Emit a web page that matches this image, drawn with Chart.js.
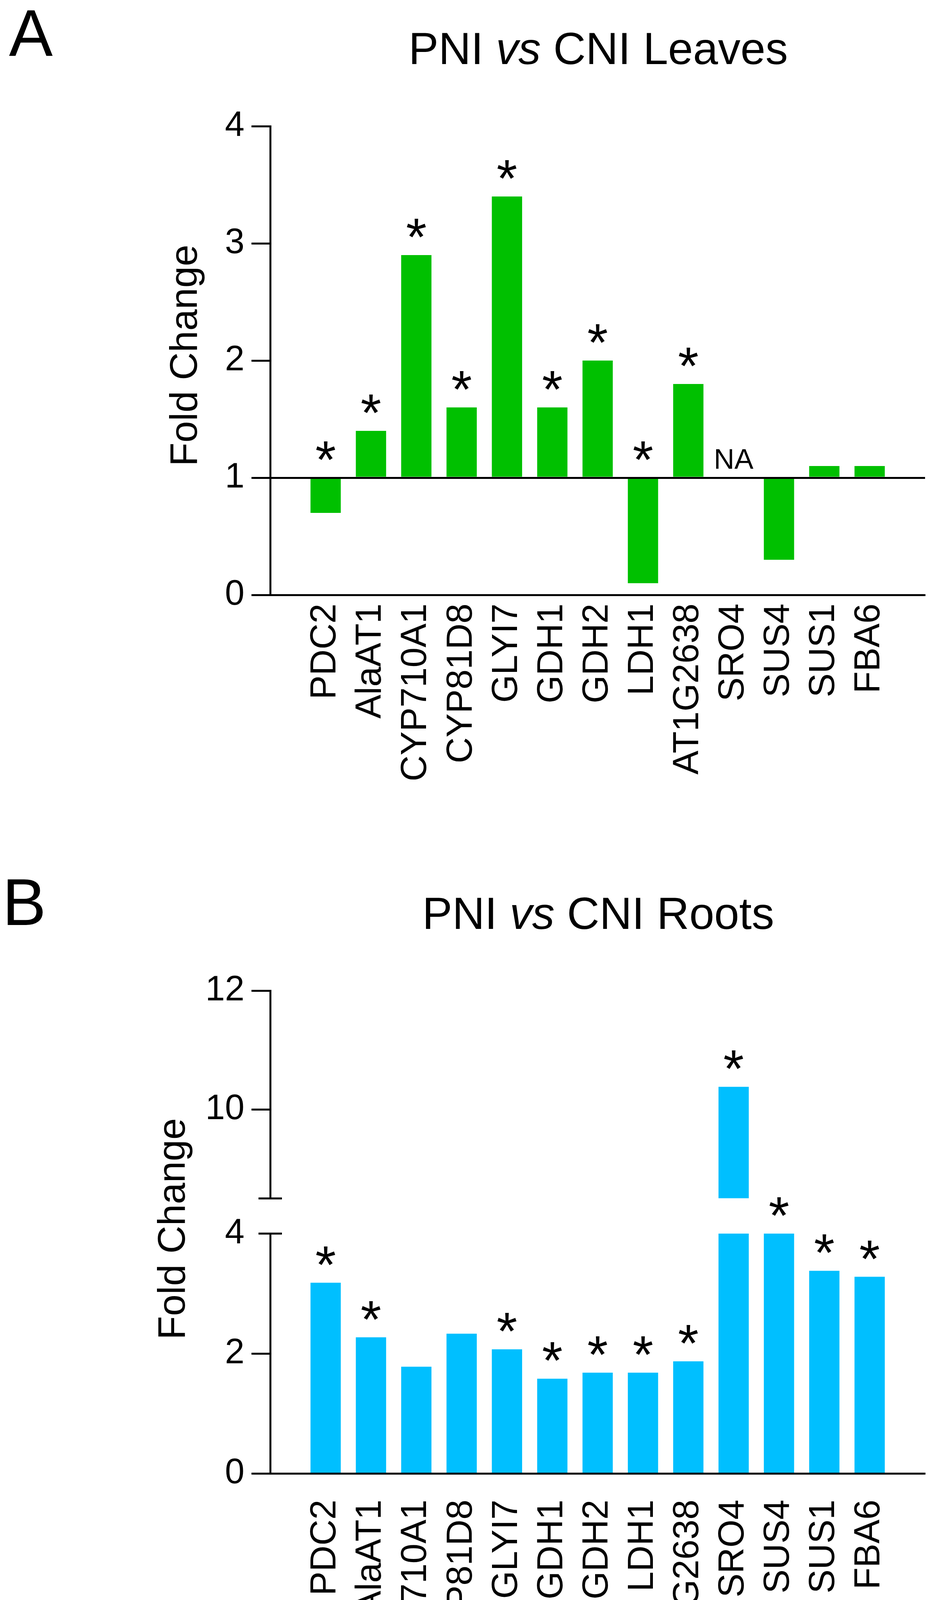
<!DOCTYPE html>
<html>
<head>
<meta charset="utf-8">
<title>PNI vs CNI fold change</title>
<script src="https://cdn.jsdelivr.net/npm/chart.js@4.4.1/dist/chart.umd.min.js"></script>
<style>
  html, body { margin: 0; padding: 0; background: #fff; }
  #page { position: relative; width: 2397px; height: 4308px; }
  canvas { position: absolute; left: 0; }
</style>
</head>
<body>
<div id="page">
  <canvas id="leavesChart" width="2397" height="2154" style="top:0"></canvas>
  <canvas id="rootsChart" width="2397" height="2154" style="top:2154px"></canvas>
</div>
<script>
// gene order on both panels
const genes = ['PDC2', 'AlaAT1', 'CYP710A1', 'CYP81D8', 'GLYI7', 'GDH1', 'GDH2', 'LDH1', 'AT1G2638', 'SRO4', 'SUS4', 'SUS1', 'FBA6'];

// A: leaves (null = NA), bars start at 1
const leavesFold = [0.7, 1.4, 2.9, 1.6, 3.4, 1.6, 2.0, 0.1, 1.8, null, 0.3, 1.1, 1.1];
const leavesSig = [1, 1, 1, 1, 1, 1, 1, 1, 1, 0, 0, 0, 0];
const leavesTicks = [0, 1, 2, 3, 4];
const leavesBase = 1;

// B: roots, broken axis 0-4 / 8.5-12
const rootsFold = [3.18, 2.27, 1.78, 2.33, 2.07, 1.58, 1.68, 1.68, 1.87, 10.38, 4.5, 3.38, 3.28];
const rootsSig = [1, 1, 0, 0, 1, 1, 1, 1, 1, 1, 1, 1, 1];
const rootsLowTicks = [0, 2, 4];
const rootsHighTicks = [8.5, 10, 12];

const FONT = "'Liberation Sans', Arial, Helvetica, sans-serif";
const BLACK = '#000';
const NONE = 'rgba(0,0,0,0)';

Chart.defaults.font.family = FONT;
Chart.defaults.color = BLACK;

function geneAxis(axisHeight, labelPad) {
	return {
		type: 'linear',
		min: -0.667,
		max: genes.length - 1 + 0.667,
		afterBuildTicks: s => { s.ticks = genes.map((g, i) => ({ value: i })); },
		afterFit: s => { s.height = axisHeight; s.paddingLeft = 0; s.paddingRight = 0; },
		ticks: {
			autoSkip: false, minRotation: 90, maxRotation: 90,
			padding: labelPad, color: BLACK, font: { size: 92 },
			callback: v => genes[v]
		},
		grid: { display: false, drawTicks: false },
		border: { color: BLACK, width: 5, z: 1 }
	};
}

function valueAxis(ticks, extra) {
	return Object.assign({
		position: 'left',
		min: ticks[0],
		max: ticks[ticks.length - 1],
		afterBuildTicks: s => { s.ticks = ticks.map(v => ({ value: v })); },
		afterFit: s => { s.width = 692; s.paddingTop = 0; s.paddingBottom = 0; },
		ticks: { padding: 18, color: BLACK, font: { size: 90 } },
		grid: { drawOnChartArea: false, tickLength: 48, tickWidth: 5, tickColor: BLACK, z: 1 },
		border: { color: BLACK, width: 5, z: 1 }
	}, extra);
}

function drawTitle(ctx, tissue, cx, baseline) {
	const parts = [['PNI ', ''], ['vs', 'italic '], [' CNI ' + tissue, '']];
	let total = 0;
	parts.forEach(p => { ctx.font = p[1] + '115px ' + FONT; total += ctx.measureText(p[0]).width; });
	let x = cx - total / 2;
	ctx.textAlign = 'left';
	parts.forEach(p => {
		ctx.font = p[1] + '115px ' + FONT;
		ctx.fillText(p[0], x, baseline);
		x += ctx.measureText(p[0]).width;
	});
}

// panel letter, title, y title, asterisks and NA
function panelText(o) {
	return {
		id: 'panelText',
		afterDraw(chart) {
			const ctx = chart.ctx;
			const xs = chart.scales.x;
			ctx.save();
			ctx.fillStyle = BLACK;
			ctx.textBaseline = 'alphabetic';

			ctx.font = '168px ' + FONT;
			ctx.textAlign = 'left';
			ctx.fillText(o.letter, o.letterX, o.letterY);

			drawTitle(ctx, o.tissue, 1532, o.titleY);

			o.sig.forEach((s, i) => {
				const top = o.topPixel(chart, i);
				if (top === null) {
					ctx.font = '73px ' + FONT;
					ctx.textAlign = 'center';
					ctx.fillText('NA', xs.getPixelForValue(i), o.naPixel(chart) - 23);
				} else if (s) {
					ctx.font = '136px ' + FONT;
					ctx.textAlign = 'center';
					ctx.fillText('*', xs.getPixelForValue(i), top);
				}
			});

			if (o.breaks) {
				const ax = chart.chartArea.left;
				ctx.strokeStyle = BLACK;
				ctx.lineWidth = 5;
				o.breaks(chart).forEach(y => {
					ctx.beginPath();
					ctx.moveTo(ax - 30, y);
					ctx.lineTo(ax + 30, y);
					ctx.stroke();
				});
			}

			ctx.translate(o.yTitleX, o.yTitleY);
			ctx.rotate(-Math.PI / 2);
			ctx.font = '99px ' + FONT;
			ctx.textAlign = 'center';
			ctx.fillText('Fold Change', 0, 0);
			ctx.restore();
		}
	};
}

// A. PNI vs CNI Leaves
new Chart(document.getElementById('leavesChart'), {
	type: 'bar',
	data: {
		datasets: [{
			data: genes.map((g, i) => ({ x: i, y: leavesFold[i] })),
			base: leavesBase,
			backgroundColor: '#00C000',
			borderWidth: 0,
			barPercentage: 0.668,
			categoryPercentage: 1
		}]
	},
	options: {
		responsive: false,
		devicePixelRatio: 1,
		animation: false,
		layout: { padding: { top: 323, right: 28, bottom: 0, left: 0 } },
		scales: {
			x: geneAxis(631, 22),
			y: valueAxis(leavesTicks, {
				grid: {
					drawOnChartArea: true,
					color: c => (c.tick && c.tick.value === leavesBase ? BLACK : NONE),
					lineWidth: 5, tickLength: 48, tickWidth: 5, tickColor: BLACK, z: 1
				}
			})
		},
		plugins: { legend: { display: false }, tooltip: { enabled: false } }
	},
	plugins: [panelText({
		letter: 'A', letterX: 23, letterY: 143,
		tissue: 'Leaves', titleY: 164,
		yTitleX: 504, yTitleY: 910,
		sig: leavesSig,
		topPixel: (chart, i) => leavesFold[i] === null ? null : chart.scales.y.getPixelForValue(Math.max(leavesFold[i], leavesBase)),
		naPixel: chart => chart.scales.y.getPixelForValue(leavesBase)
	})]
});

// B. PNI vs CNI Roots
const lowMax = rootsLowTicks[rootsLowTicks.length - 1];
const highMin = rootsHighTicks[0];

new Chart(document.getElementById('rootsChart'), {
	type: 'bar',
	data: {
		datasets: [{
			data: genes.map((g, i) => ({ x: i, y: Math.min(rootsFold[i], lowMax) })),
			yAxisID: 'yLow',
			grouped: false,
			backgroundColor: '#00BFFF',
			borderWidth: 0,
			barPercentage: 0.668,
			categoryPercentage: 1
		}, {
			data: genes.map((g, i) => ({ x: i, y: rootsFold[i] >= highMin ? rootsFold[i] : null })),
			yAxisID: 'yHigh',
			base: highMin,
			grouped: false,
			backgroundColor: '#00BFFF',
			borderWidth: 0,
			barPercentage: 0.668,
			categoryPercentage: 1
		}]
	},
	options: {
		responsive: false,
		devicePixelRatio: 1,
		animation: false,
		layout: { padding: { top: 382, right: 28, bottom: 0, left: 0 } },
		scales: {
			x: geneAxis(536, 67),
			yHigh: valueAxis(rootsHighTicks, {
				stack: 'fold', stackWeight: 532, weight: 3,
				ticks: { padding: 18, color: BLACK, font: { size: 90 }, callback: v => (v === highMin ? '' : v) },
				grid: { drawOnChartArea: false, tickLength: 48, tickWidth: 5, tickColor: c => (c.tick && c.tick.value === highMin ? NONE : BLACK), z: 1 }
			}),
			yGap: { position: 'left', stack: 'fold', stackWeight: 90, weight: 2, display: false },
			yLow: valueAxis(rootsLowTicks, {
				stack: 'fold', stackWeight: 614, weight: 1,
				grid: { drawOnChartArea: false, tickLength: 48, tickWidth: 5, tickColor: c => (c.tick && c.tick.value === lowMax ? NONE : BLACK), z: 1 }
			})
		},
		plugins: { legend: { display: false }, tooltip: { enabled: false } }
	},
	plugins: [panelText({
		letter: 'B', letterX: 6, letterY: 214,
		tissue: 'Roots', titleY: 224,
		yTitleX: 473, yTitleY: 992,
		sig: rootsSig,
		topPixel: (chart, i) => rootsFold[i] >= highMin
			? chart.scales.yHigh.getPixelForValue(rootsFold[i])
			: chart.scales.yLow.getPixelForValue(Math.min(rootsFold[i], lowMax)),
		naPixel: chart => chart.scales.yLow.getPixelForValue(0),
		breaks: chart => [chart.scales.yHigh.getPixelForValue(highMin), chart.scales.yLow.getPixelForValue(lowMax)]
	})]
});
</script>
</body>
</html>
